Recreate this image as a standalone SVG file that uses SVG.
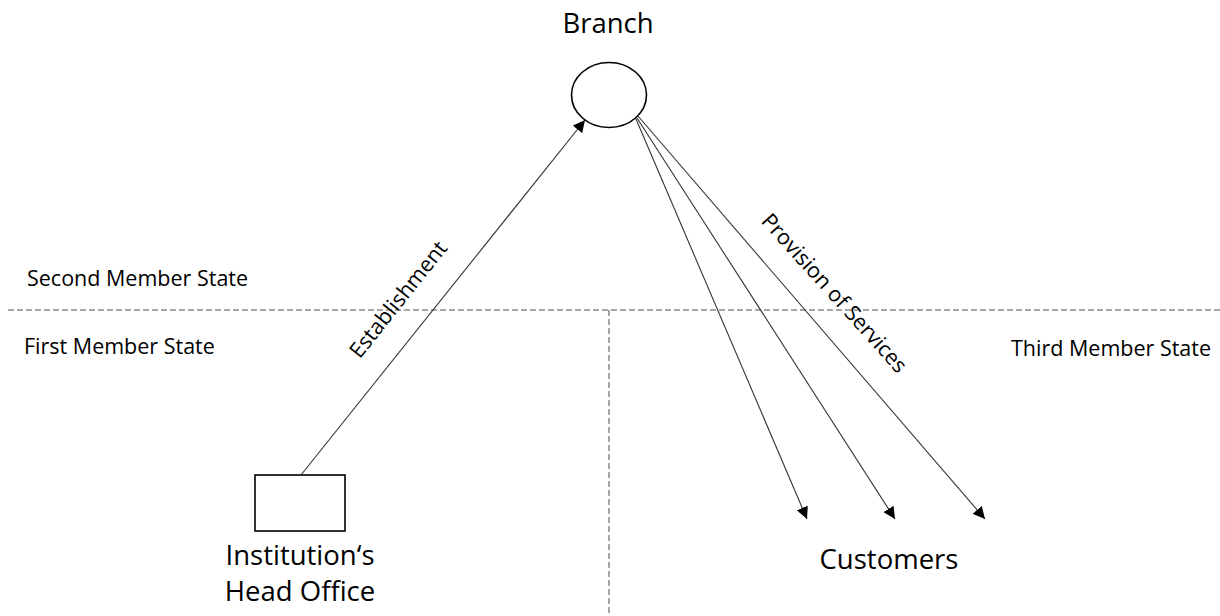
<svg xmlns="http://www.w3.org/2000/svg" width="1220" height="616" viewBox="0 0 1220 616">
<style>
text{font-family:"Open Sans","Liberation Sans",sans-serif;fill:#000}
.s{font-size:21.5px}
.l{font-size:27.5px}
.c{stroke:#333;stroke-width:1.1;fill:none}
.d{stroke:#888;stroke-width:1.5;stroke-dasharray:6,3;fill:none}
</style>
<defs>
<marker id="a" viewBox="0 0 10 10" refX="10" refY="5" markerWidth="12" markerHeight="12" markerUnits="userSpaceOnUse" orient="auto">
<path d="M0,0 L10,5 L0,10 z" fill="#000"/>
</marker>
</defs>
<rect width="1220" height="616" fill="#fff"/>
<g id="borders">
<line class="d" x1="8" y1="310" x2="1220" y2="310"/>
<line class="d" x1="609" y1="310" x2="609" y2="616"/>
</g>
<g id="labels">
<text class="s" x="27" y="286">Second Member State</text>
<text class="s" x="24" y="354">First Member State</text>
<text class="s" x="1011" y="356">Third Member State</text>
</g>
<g id="connectors">
<line class="c" x1="301" y1="475" x2="585" y2="120" marker-end="url(#a)"/>
<line class="c" x1="636" y1="119" x2="807" y2="519" marker-end="url(#a)"/>
<line class="c" x1="637" y1="118" x2="895" y2="519" marker-end="url(#a)"/>
<line class="c" x1="638" y1="116" x2="985" y2="519" marker-end="url(#a)"/>
<text class="s" transform="translate(404,304) rotate(-51.4)" text-anchor="middle">Establishment</text>
<text class="s" transform="translate(829,298) rotate(48)" text-anchor="middle">Provision of Services</text>
</g>
<g id="branch">
<ellipse cx="609" cy="95" rx="37.5" ry="32.5" fill="#fff" stroke="#000" stroke-width="1.6"/>
<text class="l" x="608" y="33" text-anchor="middle">Branch</text>
</g>
<g id="head-office">
<rect x="255" y="475" width="90" height="56" fill="#fff" stroke="#000" stroke-width="1.6"/>
<text class="l" x="300" y="565" text-anchor="middle">Institution‘s</text>
<text class="l" x="300" y="601" text-anchor="middle">Head Office</text>
</g>
<g id="customers">
<text class="l" x="889" y="569" text-anchor="middle">Customers</text>
</g>
</svg>
